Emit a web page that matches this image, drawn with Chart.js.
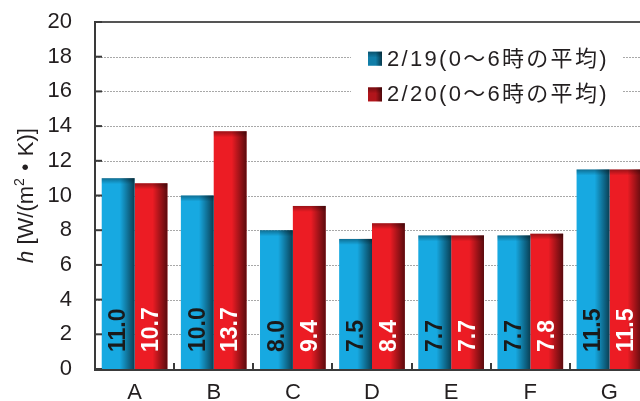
<!DOCTYPE html>
<html lang="ja">
<head>
<meta charset="utf-8">
<title>h [W/(m²・K)]</title>
<script src="https://cdn.jsdelivr.net/npm/chart.js@4/dist/chart.umd.min.js"></script>
<style>
  html, body { margin: 0; padding: 0; background: #fff; overflow: hidden; }
  #frame { width: 640px; height: 401px; overflow: hidden; position: relative; }
  #wrap { width: 649px; height: 401px; position: absolute; left: 0; top: 0; }
  #chart { display: block; }
</style>
</head>
<body>
<div id="frame"><div id="wrap"><canvas id="chart"></canvas></div></div>
<script>
// Heat transfer coefficient per site, two night-time averages
const categories = ['A', 'B', 'C', 'D', 'E', 'F', 'G'];
const series19 = [11.0, 10.0, 8.0, 7.5, 7.7, 7.7, 11.5];
const series20 = [10.7, 13.7, 9.4, 8.4, 7.7, 7.8, 11.5];
const seriesLabels = ['2/19(0～6時の平均)', '2/20(0～6時の平均)'];
const yTicks = [0, 2, 4, 6, 8, 10, 12, 14, 16, 18, 20];

const BLUE = '#17a9e1';
const RED = '#ec1c24';
const AXIS = '#3a3a3a';
const TEXT = '#231f20';
const FONT = '"Liberation Sans", Arial, "Noto Sans CJK JP", sans-serif';

// Darken the right side and top rim of a rectangle to give a bevelled look
function shadeRect(ctx, left, top, w, h, strength) {
  const g = ctx.createLinearGradient(left, 0, left + w, 0);
  g.addColorStop(0, 'rgba(0,0,0,0)');
  g.addColorStop(0.55, 'rgba(0,0,0,0)');
  g.addColorStop(1, 'rgba(0,0,0,' + strength + ')');
  ctx.fillStyle = g;
  ctx.fillRect(left, top, w, h);
  const t = Math.min(6, h);
  const gv = ctx.createLinearGradient(0, top, 0, top + t);
  gv.addColorStop(0, 'rgba(0,0,0,0.35)');
  gv.addColorStop(1, 'rgba(0,0,0,0)');
  ctx.fillStyle = gv;
  ctx.fillRect(left, top, w, t);
}

const decor = {
  id: 'decor',
  beforeDatasetsDraw(chart) {
    const { ctx, chartArea: a, scales: { y } } = chart;
    ctx.save();
    // dotted horizontal grid
    ctx.strokeStyle = '#a8a8a8';
    ctx.lineWidth = 1;
    ctx.setLineDash([2, 1]);
    yTicks.forEach(v => {
      if (v === y.min || v === y.max) return;
      const py = Math.round(y.getPixelForValue(v)) + 0.5;
      ctx.beginPath();
      ctx.moveTo(a.left, py);
      ctx.lineTo(a.right, py);
      ctx.stroke();
    });
    ctx.setLineDash([]);
    // solid frame line at the top value
    ctx.strokeStyle = '#555';
    ctx.lineWidth = 2;
    const top = y.getPixelForValue(y.max);
    ctx.beginPath();
    ctx.moveTo(a.left, top);
    ctx.lineTo(a.right, top);
    ctx.stroke();
    ctx.restore();
  },
  afterDatasetsDraw(chart) {
    const { ctx } = chart;
    ctx.save();
    chart.data.datasets.forEach((ds, di) => {
      const meta = chart.getDatasetMeta(di);
      meta.data.forEach((bar, i) => {
        const p = bar.getProps(['x', 'y', 'base', 'width'], true);
        const left = p.x - p.width / 2;
        shadeRect(ctx, left, p.y, p.width, p.base - p.y, 0.62);
        // value written vertically from the foot of the bar
        ctx.save();
        ctx.translate(p.x, p.base - 17);
        ctx.rotate(-Math.PI / 2);
        ctx.font = 'bold 23px ' + FONT;
        ctx.textAlign = 'left';
        ctx.textBaseline = 'middle';
        ctx.fillStyle = di === 0 ? '#1a1a1a' : '#ffffff';
        ctx.fillText(ds.data[i].toFixed(1), 0, 1);
        ctx.restore();
      });
    });
    ctx.restore();
  },
  afterDraw(chart) {
    const { ctx, chartArea: a, scales: { x, y } } = chart;
    ctx.save();
    ctx.strokeStyle = AXIS;
    ctx.lineWidth = 2;
    // axes
    ctx.beginPath();
    ctx.moveTo(a.left, y.getPixelForValue(y.max) - 1);
    ctx.lineTo(a.left, a.bottom + 1);
    ctx.lineTo(a.right, a.bottom + 1);
    ctx.stroke();
    // inward ticks on the value axis
    yTicks.forEach(v => {
      const py = y.getPixelForValue(v);
      ctx.beginPath();
      ctx.moveTo(a.left, py);
      ctx.lineTo(a.left + 7, py);
      ctx.stroke();
    });
    // inward ticks between categories
    const half = (x.getPixelForValue(1) - x.getPixelForValue(0)) / 2;
    categories.forEach((c, i) => {
      if (i === 0) return;
      const px = Math.round(x.getPixelForValue(i) - half);
      ctx.beginPath();
      ctx.moveTo(px, a.bottom + 1);
      ctx.lineTo(px, a.bottom - 6);
      ctx.stroke();
    });

    // legend box
    const rowY = [y.getPixelForValue(18) + 2, y.getPixelForValue(16) + 3];
    ctx.fillStyle = '#fff';
    ctx.fillRect(351, rowY[0] - 16, 271, rowY[1] - rowY[0] + 32);
    const colors = [BLUE, RED];
    seriesLabels.forEach((lab, i) => {
      const cy = rowY[i];
      ctx.fillStyle = colors[i];
      ctx.fillRect(368, cy - 7, 14, 14);
      shadeRect(ctx, 368, cy - 7, 14, 14, 0.55);
      ctx.fillStyle = 'rgba(0,0,0,0.25)';
      ctx.fillRect(368, cy - 7, 14, 14);
      ctx.fillStyle = TEXT;
      ctx.font = '22px ' + FONT;
      ctx.textAlign = 'left';
      ctx.textBaseline = 'middle';
      ctx.letterSpacing = '2.3px';
      ctx.fillText(lab, 387, cy + 1);
      ctx.letterSpacing = '0px';
    });

    // value axis title: italic h followed by the unit
    ctx.save();
    ctx.translate(33, (a.top + a.bottom) / 2);
    ctx.rotate(-Math.PI / 2);
    ctx.fillStyle = TEXT;
    ctx.textBaseline = 'alphabetic';
    ctx.textAlign = 'left';
    const parts = [
      { t: 'h', f: 'italic 22px ' + FONT, dy: 0 },
      { t: ' [W/(m', f: '22px ' + FONT, dy: 0 },
      { t: '2', f: '14px ' + FONT, dy: -9 },
      { t: '・', f: 'bold 22px ' + FONT, dy: 0 },
      { t: 'K)]', f: '22px ' + FONT, dy: 0 }
    ];
    let total = 0;
    parts.forEach(p => { ctx.font = p.f; p.w = ctx.measureText(p.t).width; total += p.w; });
    let cx = -total / 2;
    parts.forEach(p => {
      ctx.font = p.f;
      ctx.fillText(p.t, cx, p.dy);
      cx += p.w;
    });
    ctx.restore();
    ctx.restore();
  }
};

new Chart(document.getElementById('chart'), {
  type: 'bar',
  data: {
    labels: categories,
    datasets: [
      { label: seriesLabels[0], data: series19, backgroundColor: BLUE },
      { label: seriesLabels[1], data: series20, backgroundColor: RED }
    ]
  },
  options: {
    responsive: true,
    maintainAspectRatio: false,
    animation: false,
    layout: { padding: { top: 22, left: 0, right: 0, bottom: 0 } },
    datasets: { bar: { categoryPercentage: 0.83, barPercentage: 1.0, borderWidth: 0 } },
    plugins: { legend: { display: false }, tooltip: { enabled: false } },
    scales: {
      x: {
        grid: { display: false, drawTicks: false },
        border: { display: false },
        ticks: { font: { family: FONT, size: 22 }, color: TEXT, padding: 11 },
        afterFit(s) { s.height = 32; s.paddingLeft = 0; s.paddingRight = 0; }
      },
      y: {
        min: 0,
        max: 20,
        grid: { display: false, drawTicks: false },
        border: { display: false },
        afterBuildTicks(s) { s.ticks = yTicks.map(v => ({ value: v })); },
        ticks: { font: { family: FONT, size: 22 }, color: TEXT, padding: 23 },
        afterFit(s) { s.width = 95; s.paddingTop = 0; s.paddingBottom = 0; }
      }
    }
  },
  plugins: [decor]
});
</script>
</body>
</html>
